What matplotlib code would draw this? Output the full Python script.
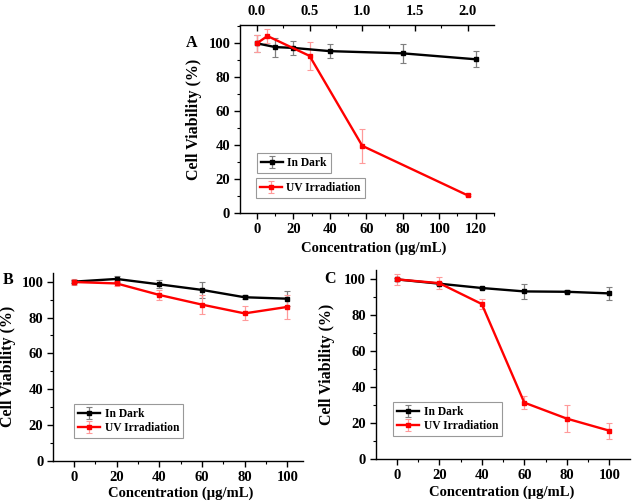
import numpy as np
import matplotlib
matplotlib.use("Agg")
import matplotlib.pyplot as plt
from matplotlib.ticker import MultipleLocator, FormatStrFormatter

plt.rcParams['font.family'] = ['Liberation Serif', 'DejaVu Serif']
plt.rcParams['font.weight'] = 'bold'
plt.rcParams['axes.labelweight'] = 'bold'

# Panel A (ug/mL; top axis = ug/mL / 57.8)
a_dark_x = [0, 10, 20, 40, 80, 120]
a_dark_y = [100, 97.8, 97.3, 95.4, 94.1, 90.6]
a_dark_err = [5.2, 5.6, 3.9, 4.1, 5.6, 4.7]
a_uv_x = [0, 5.8, 28.9, 57.8, 115.6]
a_uv_y = [100, 104.3, 92.6, 39.6, 10.4]
a_uv_err = [5.2, 3.9, 8.4, 10.2, 0.6]

# Panel B
b_x = [0, 20, 40, 60, 80, 100]
b_dark_y = [100, 101.5, 98.5, 95.4, 91.3, 90.5]
b_dark_err = [1.0, 1.9, 2.3, 4.5, 1.0, 4.3]
b_uv_y = [99.8, 99.0, 92.6, 87.2, 82.3, 85.9]
b_uv_err = [1.5, 1.2, 3.0, 5.4, 3.9, 6.5]

# Panel C
c_x = [0, 20, 40, 60, 80, 100]
c_dark_y = [100, 97.6, 95.2, 93.3, 93.1, 92.2]
c_dark_err = [1.0, 1.0, 0.8, 4.4, 0.9, 3.7]
c_uv_y = [100, 97.9, 86.3, 31.5, 22.6, 15.9]
c_uv_err = [3.0, 3.2, 2.7, 3.7, 7.4, 4.5]

TICK_FS = 10.5
XLABEL_FS = 10.5
YLABEL_FS = 11.5
LEG_FS = 8.3


def draw_series(ax, x, y, err, color, ecolor, label):
    ax.errorbar(x, y, yerr=err, color=color, ecolor=ecolor, elinewidth=0.9,
                capsize=2, capthick=0.8, lw=1.7, marker='s', ms=3.5,
                label=label, zorder=3)


def style_axes(ax, xlim, ylim, xlabel_pos, ylabel_x, x_major=20, x_minor=10):
    ax.set_xlim(*xlim)
    ax.set_ylim(*ylim)
    ax.spines['right'].set_visible(False)
    ax.spines['top'].set_visible(False)
    for s in ('left', 'bottom'):
        ax.spines[s].set_linewidth(1.0)
    ax.xaxis.set_major_locator(MultipleLocator(x_major))
    ax.xaxis.set_minor_locator(MultipleLocator(x_minor))
    ax.yaxis.set_major_locator(MultipleLocator(20))
    ax.yaxis.set_minor_locator(MultipleLocator(10))
    ax.tick_params(which='major', direction='out', length=4, width=1,
                   labelsize=TICK_FS, top=False, right=False, pad=3)
    ax.tick_params(which='minor', direction='out', length=2, width=0.8,
                   top=False, right=False)
    for lab in ax.get_xticklabels() + ax.get_yticklabels():
        lab.set_fontweight('bold')
    ax.set_xlabel('Concentration (µg/mL)', fontsize=XLABEL_FS, fontweight='bold')
    ax.set_ylabel('Cell Viability (%)', fontsize=YLABEL_FS, fontweight='bold')
    ax.xaxis.set_label_coords(*xlabel_pos)
    ax.yaxis.set_label_coords(ylabel_x, 0.5)


def boxed_legend(ax, handles, labels, anchor):
    leg = ax.legend(handles, labels, loc='lower left', bbox_to_anchor=anchor,
                    borderaxespad=0, frameon=True, fancybox=False,
                    handlelength=1.9, handletextpad=0.4, labelspacing=0.15,
                    borderpad=0.35, prop={'weight': 'bold', 'size': LEG_FS})
    leg.get_frame().set_edgecolor('#808080')
    leg.get_frame().set_linewidth(0.8)
    return leg


fig = plt.figure(figsize=(6.33, 5.03), dpi=100)

# Panel A
axA = fig.add_axes([0.379, 0.5765, 0.4013, 0.3738])
draw_series(axA, a_dark_x, a_dark_y, a_dark_err, 'black', '#7f7f7f', 'In Dark')
draw_series(axA, a_uv_x, a_uv_y, a_uv_err, 'red', '#ff9a9a', 'UV Irradiation')
style_axes(axA, (-9.3, 130), (0, 110.8), (0.525, -0.149), -0.15)
axA.spines['top'].set_visible(True)
axA.spines['top'].set_linewidth(1.0)
top = axA.secondary_xaxis('top', functions=(lambda v: v / 57.8, lambda v: v * 57.8))
top.xaxis.set_major_locator(MultipleLocator(0.5))
top.xaxis.set_minor_locator(MultipleLocator(0.25))
top.xaxis.set_major_formatter(FormatStrFormatter('%.1f'))
top.tick_params(which='major', direction='in', length=4, width=1, labelsize=TICK_FS, pad=5)
top.tick_params(which='minor', direction='in', length=2, width=0.8)
top.spines['top'].set_visible(False)
for lab in top.get_xticklabels():
    lab.set_fontweight('bold')
hA, lA = axA.get_legend_handles_labels()
leg1 = boxed_legend(axA, [hA[0]], [lA[0]], (0.067, 0.213))
axA.add_artist(leg1)
boxed_legend(axA, [hA[1]], [lA[1]], (0.063, 0.08))

# Panel B
axB = fig.add_axes([0.0837, 0.0835, 0.395, 0.3744])
draw_series(axB, b_x, b_dark_y, b_dark_err, 'black', '#7f7f7f', 'In Dark')
draw_series(axB, b_x, b_uv_y, b_uv_err, 'red', '#ff9a9a', 'UV Irradiation')
style_axes(axB, (-9.8, 107.4), (0, 105), (0.51, -0.135), -0.148)
hB, lB = axB.get_legend_handles_labels()
boxed_legend(axB, hB, lB, (0.084, 0.122))

# Panel C
axC = fig.add_axes([0.5935, 0.0869, 0.4017, 0.3763])
draw_series(axC, c_x, c_dark_y, c_dark_err, 'black', '#7f7f7f', 'In Dark')
draw_series(axC, c_x, c_uv_y, c_uv_err, 'red', '#ff9a9a', 'UV Irradiation')
style_axes(axC, (-9.9, 109.7), (0, 105.2), (0.495, -0.141), -0.16)
hC, lC = axC.get_legend_handles_labels()
boxed_legend(axC, hC, lC, (0.068, 0.123))

# panel letters
for letter, px, py in [('A', 192, 43), ('B', 8, 280), ('C', 330, 279)]:
    fig.text(px / 633, 1 - py / 503, letter, ha='center', va='center',
             fontsize=YLABEL_FS, fontweight='bold')

fig.savefig('out.png', dpi=100)
